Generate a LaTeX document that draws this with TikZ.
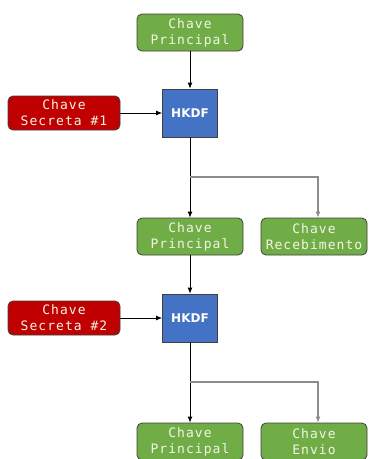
\documentclass[tikz,border=0pt]{standalone}
\usepackage{fontspec}
\setmainfont{DejaVu Sans}
\newfontfamily\keyfont[LetterSpace=8]{DejaVu Sans Mono}
\usetikzlibrary{arrows.meta}
\definecolor{keygreen}{HTML}{70AD47}
\definecolor{keyred}{HTML}{C00000}
\definecolor{keyblue}{HTML}{4472C4}
\definecolor{keytext}{HTML}{F4F4E6}
\tikzset{
  key/.style={draw=black!75, line width=0.8pt, rounded corners=5pt, inner sep=0pt,
    align=center, minimum width=106pt, minimum height=37pt, text=keytext,
    font=\keyfont\fontsize{13}{16}\selectfont},
  master/.style={key, fill=keygreen},
  secret/.style={key, fill=keyred, minimum width=112pt, minimum height=34pt},
  hkdfbox/.style={draw=black!75, line width=0.8pt, fill=keyblue, inner sep=0pt,
    minimum width=55pt, minimum height=48pt, text=white,
    font=\bfseries\fontsize{12}{14}\selectfont},
  flow/.style={-{Latex[length=6pt,width=5pt]}, line width=0.8pt, black},
  side/.style={flow, line width=1.1pt, draw=black!45}
}

\begin{document}
\begin{tikzpicture}[x=1pt, y=-1pt]
\useasboundingbox (0,0) rectangle (373,459);

%initial key
\node[master] (pk0) at (190,32.5) {Chave\\Principal};

%two derivation steps
\foreach \i/\prev/\dy/\out in {1/0/0/Recebimento, 2/1/205/Envio} {
  \node[hkdfbox] (hkdf\i) at (190,113+\dy) {HKDF};
  \node[secret] (sec\i) at (64,113+\dy) {Chave\\Secreta \#\i};
  \node[master] (pk\i) at (190,236.5+\dy) {Chave\\Principal};
  \node[master] (out\i) at (314,236.5+\dy) {Chave\\\out};
  \coordinate (br\i) at (190,177+\dy);
  \draw[flow] (pk\prev) -- (hkdf\i);
  \draw[flow] (sec\i) -- (hkdf\i);
  \draw[flow] (hkdf\i) -- (pk\i);
  \draw[side] (br\i) -| ([xshift=4pt]out\i.north);
}
\end{tikzpicture}
\end{document}
